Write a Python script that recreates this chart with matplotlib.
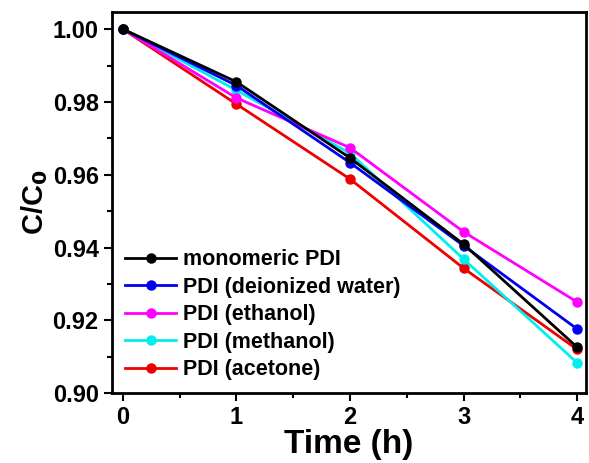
import numpy as np
import matplotlib.pyplot as plt

plt.rcParams['font.family'] = ['Liberation Sans', 'DejaVu Sans']
plt.rcParams['font.weight'] = 'bold'

# time points (h)
t = [0, 1, 2, 3, 4]

# C/C0 values
monomeric = [1.000, 0.9855, 0.9646, 0.9409, 0.9126]
water = [1.000, 0.9845, 0.9633, 0.9405, 0.9176]
ethanol = [1.000, 0.9811, 0.9674, 0.9443, 0.9250]
methanol = [1.000, 0.9832, 0.9659, 0.9368, 0.9083]
acetone = [1.000, 0.9794, 0.9588, 0.9343, 0.9120]

labels = ["monomeric PDI", "PDI (deionized water)", "PDI (ethanol)",
          "PDI (methanol)", "PDI (acetone)"]
colors = ["black", "#0000ee", "#ff00ff", "#00eeee", "#ee0000"]
series = [monomeric, water, ethanol, methanol, acetone]

fig = plt.figure(figsize=(5.89, 4.63), dpi=100)
ax = fig.add_axes([0.19, 0.151, 0.805, 0.823])

# draw in reverse order so black ends up on top
for i in range(len(series) - 1, -1, -1):
    ax.plot(t, series[i], color=colors[i], lw=2, marker='o', ms=6.5,
            label=labels[i], zorder=3 + (len(series) - i))

ax.set_xlim(-0.097, 4.078)
ax.set_ylim(0.90, 1.0047)
ax.set_xticks([0, 1, 2, 3, 4])
ax.set_xticks([0.5, 1.5, 2.5, 3.5], minor=True)
ax.set_yticks([0.90, 0.92, 0.94, 0.96, 0.98, 1.00])
ax.set_yticks([0.91, 0.93, 0.95, 0.97, 0.99], minor=True)
ax.tick_params(which='major', direction='out', length=6, width=1.5, labelsize=17)
ax.tick_params(which='minor', direction='out', length=3.5, width=1.5)
for s in ax.spines.values():
    s.set_linewidth(2)

ax.set_xlabel("Time (h)", fontsize=24, fontweight='bold', labelpad=0)
ax.set_ylabel("C/C$_\\mathbf{0}$", fontsize=21, fontweight='bold', labelpad=2)

h, l = ax.get_legend_handles_labels()
ax.legend(h[::-1], l[::-1], loc='lower left', frameon=False, fontsize=15.5,
          handlelength=2.4, handletextpad=0.3, labelspacing=0.3,
          borderaxespad=0.2, bbox_to_anchor=(0.0, 0.0))

fig.savefig("out.png", dpi=100)
